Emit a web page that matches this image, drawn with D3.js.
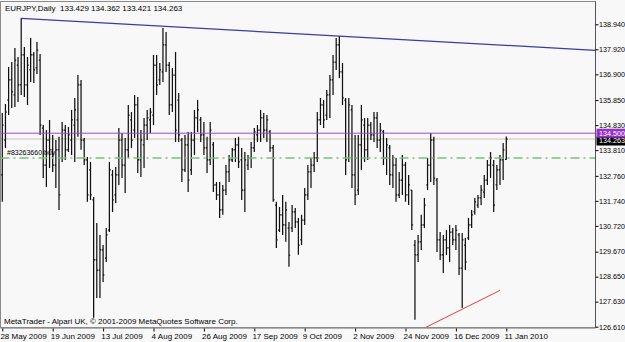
<!DOCTYPE html>
<html>
<head>
<meta charset="utf-8">
<script src="https://cdn.jsdelivr.net/npm/d3@7"></script>
<style>
  body { margin: 0; background: #f8f8f8; }
  svg { display: block; font-family: "Liberation Sans", Arial, sans-serif; }
</style>
</head>
<body>
<svg id="chart" width="625" height="342"></svg>
<script>
const width = 625, height = 342;

const header = 'EURJPY,Daily  133.429 134.362 133.421 134.263';
const footer = 'MetaTrader - Alpari UK, \u00A9 2001-2009 MetaQuotes Software Corp.';

const dateLabels = ['28 May 2009','19 Jun 2009','13 Jul 2009','4 Aug 2009','26 Aug 2009',
  '17 Sep 2009','9 Oct 2009','2 Nov 2009','24 Nov 2009','16 Dec 2009','11 Jan 2010'];
const dateBars = [0,16,32,48,64,80,96,112,128,144,160];

const priceTicks = [138.940,137.920,136.900,135.850,134.830,133.810,132.760,
  131.740,130.720,129.670,128.650,127.630,126.610];

// daily bars, oldest first
const opens = [132.80,134.22,135.85,136.67,136.06,137.28,136.47,137.69,136.47,137.08,
  137.69,137.16,137.48,134.71,133.20,134.22,133.82,133.20,133.82,133.49,
  134.63,133.82,134.22,134.83,135.04,136.47,134.22,133.41,133.00,131.78,
  129.33,128.92,129.74,129.41,130.55,132.80,131.98,132.80,134.22,133.20,
  133.82,135.04,134.63,135.65,133.41,134.02,134.83,135.04,135.24,137.28,
  136.67,137.00,138.10,137.28,135.65,136.87,135.85,134.22,133.00,134.02,
  133.00,134.22,135.12,135.04,134.43,133.90,133.41,134.02,132.39,131.98,
  131.37,132.18,132.92,133.41,133.82,134.02,133.41,132.18,133.20,133.49,
  133.90,134.43,134.63,135.12,134.63,134.55,133.90,131.57,130.55,131.17,
  130.76,130.63,130.63,131.29,130.88,130.15,130.96,131.98,132.92,133.20,
  133.49,135.04,135.65,135.24,136.06,136.67,137.40,138.10,137.00,135.85,
  133.49,135.45,132.80,132.18,134.02,134.83,133.82,134.83,134.43,135.12,
  134.22,134.55,133.49,133.90,132.80,133.20,131.98,132.59,133.20,131.98,
  132.18,129.94,129.54,130.07,130.76,132.39,133.20,134.22,132.59,130.15,
  129.54,130.15,129.82,130.47,130.15,130.35,129.00,129.94,130.23,130.76,
  131.29,131.57,131.86,132.10,132.59,133.20,133.20,132.39,133.00,133.41,
  133.429];
const highs = [135.32,135.69,137.20,137.40,137.97,137.61,139.20,138.01,137.61,138.38,
  137.81,138.22,137.73,134.83,134.63,135.04,134.43,134.22,134.35,134.96,
  134.83,134.75,135.45,135.93,136.87,136.67,134.30,133.53,133.33,131.90,
  130.84,130.35,129.94,130.63,133.33,133.00,133.12,134.71,134.51,134.30,
  135.65,135.36,136.06,135.98,134.63,135.12,135.45,135.53,137.69,137.69,
  137.36,138.79,138.63,137.40,137.16,137.81,136.14,134.30,134.43,134.55,
  134.55,135.45,135.85,135.16,134.96,134.35,134.96,134.14,132.51,132.51,
  132.39,133.20,133.61,133.90,134.30,134.35,133.90,133.73,133.61,134.14,
  134.71,134.83,135.45,135.32,135.24,134.63,134.02,131.70,131.49,131.98,
  131.70,130.88,131.57,131.45,131.04,131.17,132.27,133.20,133.49,133.73,
  135.36,135.93,135.85,136.26,136.87,137.69,138.38,138.46,137.36,135.93,
  135.93,135.65,134.43,134.43,135.65,135.12,135.12,134.96,135.36,135.36,
  134.92,134.63,134.30,134.02,133.61,133.49,132.92,133.61,133.33,132.80,
  132.18,130.15,130.35,131.17,131.86,133.49,134.51,134.35,132.67,130.47,
  130.35,130.55,130.76,130.63,130.76,130.43,130.43,130.23,131.04,131.37,
  131.86,131.98,132.39,132.80,133.41,133.73,133.41,133.20,133.61,134.10,
  134.362];
const lows = [131.70,133.90,135.24,135.53,135.57,135.77,136.06,135.98,135.65,136.59,
  136.55,136.91,134.43,132.67,132.31,133.08,132.92,132.27,131.37,133.33,
  133.41,133.73,133.61,133.33,134.35,133.82,133.20,131.70,131.78,126.97,
  127.78,127.78,128.43,129.25,130.47,131.29,131.65,132.39,132.67,132.06,
  133.49,133.90,134.30,132.88,132.71,133.08,134.22,134.51,134.83,136.06,
  136.47,136.59,137.00,135.24,135.36,134.14,134.14,132.51,132.92,132.10,
  132.80,133.61,134.55,134.14,133.61,132.88,133.20,132.10,131.78,131.04,
  131.17,131.98,132.51,133.33,133.33,133.08,131.78,131.29,133.00,133.08,
  133.73,134.14,134.14,134.30,134.14,133.73,131.70,129.82,130.47,130.35,
  130.07,129.05,130.47,130.63,129.54,129.94,130.76,131.78,132.27,132.92,
  133.33,134.83,134.71,135.04,135.12,136.06,137.08,136.75,135.65,132.80,
  133.33,132.27,131.57,131.98,133.00,133.33,133.41,134.22,134.14,133.90,
  133.73,133.20,132.80,132.39,132.27,131.70,131.86,131.98,131.70,131.57,
  130.55,126.89,129.25,129.74,130.63,132.18,132.51,132.39,129.66,129.33,
  128.80,129.53,129.25,129.94,129.74,128.72,127.37,128.92,130.15,130.63,
  131.17,131.45,131.57,131.86,132.39,132.67,131.29,132.18,132.39,132.59,
  133.421];
const closes = [134.83,135.36,136.67,136.18,137.48,136.47,137.69,136.47,137.28,137.69,
  137.08,137.89,134.83,133.20,134.22,133.82,133.20,133.82,131.98,134.63,
  133.82,134.43,135.04,135.45,136.47,134.22,133.41,131.98,131.98,129.33,
  128.92,129.74,128.72,130.35,133.00,131.78,132.80,134.22,133.20,133.82,
  135.24,134.22,135.65,133.41,134.22,134.83,135.12,135.36,137.28,136.47,
  137.08,138.10,137.28,135.65,136.87,134.63,134.43,133.00,134.02,132.59,
  134.22,135.12,135.45,134.43,133.90,133.41,134.63,132.39,131.98,131.37,
  132.18,132.92,133.41,133.82,134.02,133.33,132.18,133.41,133.49,133.90,
  134.55,134.63,135.12,134.63,135.04,133.90,131.78,130.15,131.17,130.76,
  131.37,129.53,131.29,130.88,129.94,130.96,131.98,132.92,133.20,133.49,
  135.04,135.65,135.04,136.06,136.67,137.40,138.10,137.00,135.94,133.41,
  135.65,132.80,131.98,134.02,135.04,133.82,134.83,134.43,135.12,134.22,
  134.63,133.49,134.02,132.80,133.20,131.98,132.59,133.20,131.98,132.39,
  130.76,129.54,130.07,130.76,131.57,133.20,134.22,132.67,130.15,129.54,
  130.15,129.82,130.47,130.15,130.55,129.00,130.15,129.25,130.76,131.17,
  131.70,131.86,132.18,132.59,133.20,133.49,131.57,133.00,133.41,133.82,
  134.263];

// drawn objects
const blueTrend = [{bar: 6, price: 139.18}, {bar: 107, price: 138.46}];
const redTrend = [{bar: 133, price: 126.49}, {bar: 158, price: 128.09}];
const alertPrice = 134.500;
const bidPrice = 134.263;
const orderPrice = 133.49;
const orderLabel = '#83263660 buy';

const fig = {left: 0.5, top: 1.5, right: 595.5, bottom: 327.5};

const svg = d3.select('#chart');

const x = d3.scaleLinear()
  .domain([0, 160])
  .range([2.3, 506.3]);
const y = d3.scaleLinear()
  .domain([126.61, 138.94])
  .range([326.7, 24.3]);

svg.append('rect')
  .attr('width', width).attr('height', height)
  .attr('fill', '#f8f8f8');

svg.append('clipPath').attr('id', 'plot')
  .append('rect')
  .attr('x', fig.left).attr('y', fig.top)
  .attr('width', fig.right - fig.left).attr('height', fig.bottom - fig.top);

const plot = svg.append('g').attr('clip-path', 'url(#plot)');

// bid level behind the bars
plot.append('line')
  .attr('x1', fig.left).attr('x2', fig.right)
  .attr('y1', y(bidPrice)).attr('y2', y(bidPrice))
  .attr('stroke', '#c4c4c4');

// OHLC bars
const bars = d3.range(opens.length);
plot.append('g')
  .selectAll('path')
  .data(bars)
  .join('path')
    .attr('d', i => {
      const cx = x(i);
      return 'M' + cx + ',' + y(highs[i]) + 'V' + y(lows[i]) +
        'M' + (cx - 1.3) + ',' + y(opens[i]) + 'H' + cx +
        'M' + cx + ',' + y(closes[i]) + 'H' + (cx + 1.3);
    })
    .attr('fill', 'none')
    .attr('stroke', '#111')
    .attr('stroke-width', 1.25);

plot.append('line')
  .attr('x1', fig.left).attr('x2', fig.right)
  .attr('y1', y(alertPrice)).attr('y2', y(alertPrice))
  .attr('stroke', '#9a4ad2');

plot.append('line')
  .attr('x1', fig.left).attr('x2', fig.right)
  .attr('y1', y(orderPrice)).attr('y2', y(orderPrice))
  .attr('stroke', '#78c078')
  .attr('stroke-width', 1.5)
  .attr('stroke-dasharray', '9,4,2,4');

plot.append('text')
  .attr('x', 7).attr('y', y(orderPrice) - 3)
  .attr('font-size', '7px')
  .text(orderLabel);

// blue trendline as a ray to the right edge
const slope = (blueTrend[1].price - blueTrend[0].price) / (blueTrend[1].bar - blueTrend[0].bar);
const edgeBar = x.invert(fig.right);
plot.append('line')
  .attr('x1', x(blueTrend[0].bar)).attr('y1', y(blueTrend[0].price))
  .attr('x2', x(edgeBar))
  .attr('y2', y(blueTrend[0].price + slope * (edgeBar - blueTrend[0].bar)))
  .attr('stroke', '#3a3aa8')
  .attr('stroke-width', 1.2);

plot.append('line')
  .attr('x1', x(redTrend[0].bar)).attr('y1', y(redTrend[0].price))
  .attr('x2', x(redTrend[1].bar)).attr('y2', y(redTrend[1].price))
  .attr('stroke', '#f03a3a');

// frame
svg.append('rect')
  .attr('x', fig.left).attr('y', fig.top)
  .attr('width', fig.right - fig.left).attr('height', fig.bottom - fig.top)
  .attr('fill', 'none')
  .attr('stroke', '#8a8a8a');
svg.append('line')
  .attr('x1', fig.right).attr('x2', fig.right)
  .attr('y1', fig.top).attr('y2', fig.bottom)
  .attr('stroke', '#555');
svg.append('line')
  .attr('x1', fig.left).attr('x2', fig.right)
  .attr('y1', fig.bottom + 1).attr('y2', fig.bottom + 1)
  .attr('stroke', '#b0b0b0');

// axes
const yAxis = d3.axisRight(y)
  .tickValues(priceTicks)
  .tickFormat(d3.format('.3f'))
  .tickSize(3)
  .tickSizeOuter(0);
svg.append('g')
  .attr('transform', 'translate(' + fig.right + ',0)')
  .call(yAxis)
  .call(g => g.select('.domain').remove())
  .call(g => g.selectAll('text').attr('x', 3.5).attr('font-size', '7.2px')
    .attr('font-family', '"Liberation Sans", Arial, sans-serif').attr('fill', '#000'))
  ;

const xAxis = d3.axisBottom(x)
  .tickValues(dateBars)
  .tickFormat((d, i) => dateLabels[i])
  .tickSize(3)
  .tickSizeOuter(0);
svg.append('g')
  .attr('transform', 'translate(0,' + (fig.bottom + 1) + ')')
  .call(xAxis)
  .call(g => g.select('.domain').remove())
  .call(g => g.selectAll('text')
    .style('text-anchor', 'start')
    .attr('dx', '-0.3em')
    .attr('y', 5)
    .attr('font-size', '8px')
    .attr('font-family', '"Liberation Sans", Arial, sans-serif')
    .attr('fill', '#000'))
  ;

// price markers on the right scale, alert drawn last so it sits on top
const markers = [
  {price: bidPrice, fill: '#000', dy: 2},
  {price: alertPrice, fill: '#9932cc', dy: 0}
];
const mk = svg.append('g')
  .selectAll('g')
  .data(markers)
  .join('g')
    .attr('transform', d => 'translate(' + (fig.right + 1) + ',' + (y(d.price) + d.dy) + ')');
mk.append('rect')
  .attr('x', 0).attr('y', -4.5)
  .attr('width', 30).attr('height', 9)
  .attr('fill', d => d.fill);
mk.append('text')
  .attr('x', 2.5).attr('dy', '0.34em')
  .attr('font-size', '7.2px')
  .attr('fill', '#fff')
  .text(d => d3.format('.3f')(d.price));

// texts
svg.append('text')
  .attr('x', 5).attr('y', 11)
  .attr('font-size', '8px')
  .attr('xml:space', 'preserve')
  .style('white-space', 'pre')
  .text(header);

svg.append('text')
  .attr('x', 4).attr('y', 324)
  .attr('font-size', '8px')
  .text(footer);
</script>
</body>
</html>
